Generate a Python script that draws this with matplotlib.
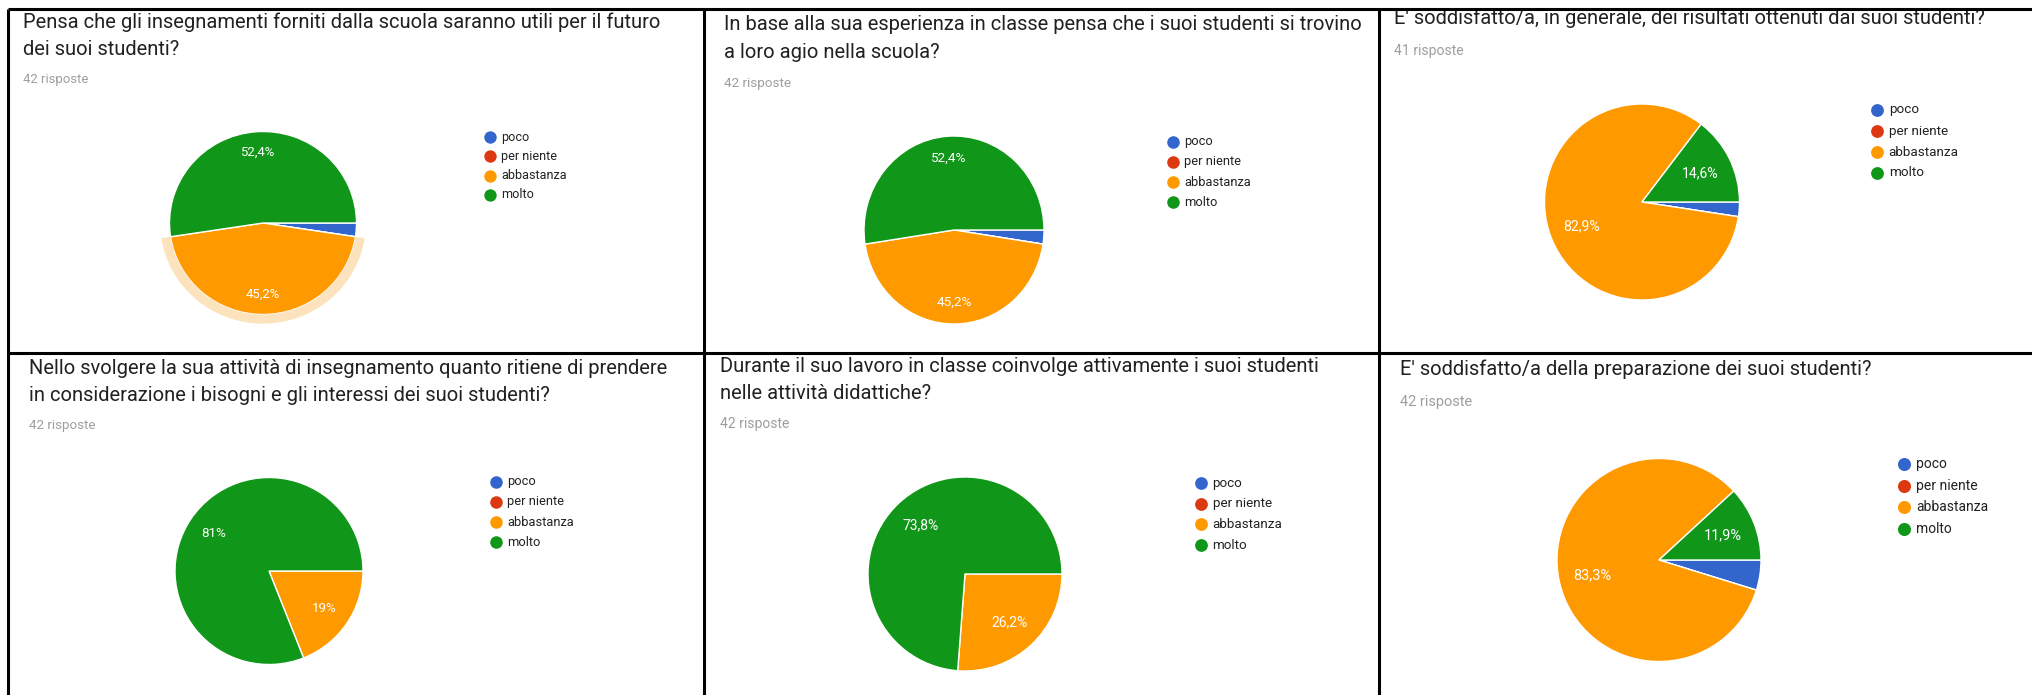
import math
import matplotlib
matplotlib.use("Agg")
import matplotlib.pyplot as plt
from matplotlib.patches import Wedge

plt.rcParams['font.family'] = ['Roboto', 'DejaVu Sans']

W, H = 2032, 695

categories = ["poco", "per niente", "abbastanza", "molto"]
colors = ["#3366cc", "#dc3912", "#ff9900", "#109618"]

titles = [
    "Pensa che gli insegnamenti forniti dalla scuola saranno utili per il futuro\ndei suoi studenti?",
    "In base alla sua esperienza in classe pensa che i suoi studenti si trovino\na loro agio nella scuola?",
    "E' soddisfatto/a, in generale, dei risultati ottenuti dai suoi studenti?",
    "Nello svolgere la sua attività di insegnamento quanto ritiene di prendere\nin considerazione i bisogni e gli interessi dei suoi studenti?",
    "Durante il suo lavoro in classe coinvolge attivamente i suoi studenti\nnelle attività didattiche?",
    "E' soddisfatto/a della preparazione dei suoi studenti?",
]
responses = ["42 risposte", "42 risposte", "41 risposte",
             "42 risposte", "42 risposte", "42 risposte"]

# percentages per category: poco, per niente, abbastanza, molto
q1 = [2.4, 0, 45.2, 52.4]
q2 = [2.4, 0, 45.2, 52.4]
q3 = [2.4, 0, 82.9, 14.6]
q4 = [0, 0, 19.0, 81.0]
q5 = [0, 0, 26.2, 73.8]
q6 = [4.8, 0, 83.3, 11.9]
answers = [q1, q2, q3, q4, q5, q6]

# pixel layout of each panel (from top-left of the image)
layout = [
    dict(tx=23, ty=22, ry_resp=80, cx=263, cy=223, rx=93.5, ry=91.5, lx=490, ly=137, ldy=19.3, lr=0.78, hl=2),
    dict(tx=724, ty=25, ry_resp=84, cx=954, cy=230, rx=90, ry=94, lx=1173, ly=142, ldy=20, lr=0.77, hl=None),
    dict(tx=1394, ty=18, ry_resp=51, cx=1642, cy=202, rx=97.5, ry=98, lx=1877, ly=110, ldy=21, lr=0.67, hl=None),
    dict(tx=29, ty=368, ry_resp=425, cx=269, cy=571, rx=94, ry=93.5, lx=496, ly=482, ldy=20, lr=0.71, hl=None),
    dict(tx=720, ty=366, ry_resp=424, cx=965, cy=574, rx=97, ry=97, lx=1201, ly=483, ldy=20.7, lr=0.68, hl=None),
    dict(tx=1400, ty=369, ry_resp=402, cx=1659, cy=560, rx=102, ry=101.5, lx=1904, ly=464, ldy=21.7, lr=0.67, hl=None),
]


def fmt_pct(v):
    s = f"{v:.1f}".replace(".", ",")
    if s.endswith(",0"):
        s = s[:-2]
    return s + "%"


fig = plt.figure(figsize=(W / 100, H / 100), dpi=100)
fig.patch.set_facecolor("white")

bg = fig.add_axes([0, 0, 1, 1])
bg.set_xlim(0, W)
bg.set_ylim(H, 0)
bg.axis("off")

for title, resp, vals, lay in zip(titles, responses, answers, layout):
    sc = lay["ry"] / 92.0
    # title lines
    for i, line in enumerate(title.split("\n")):
        bg.text(lay["tx"], lay["ty"] + i * 27.5, line, fontsize=14.5, color="#212121",
                ha="left", va="center")
    bg.text(lay["tx"], lay["ry_resp"], resp, fontsize=9.5 * sc, color="#9e9e9e",
            ha="left", va="center")

    # legend
    for i, (cat, col) in enumerate(zip(categories, colors)):
        y = lay["ly"] + i * lay["ldy"]
        bg.scatter(lay["lx"], y, s=80 * sc, color=col, zorder=3, linewidths=0)
        bg.text(lay["lx"] + 11 * sc, y, cat, fontsize=9.1 * sc, color="#222222",
                ha="left", va="center")

    # pie
    ax = fig.add_axes([(lay["cx"] - lay["rx"]) / W, 1 - (lay["cy"] + lay["ry"]) / H,
                       2 * lay["rx"] / W, 2 * lay["ry"] / H])
    wedges, _ = ax.pie(vals, colors=colors, startangle=0, counterclock=False,
                       radius=1, wedgeprops=dict(edgecolor="white", linewidth=1))
    ax.set_aspect("auto")
    ax.set_xlim(-1, 1)
    ax.set_ylim(-1, 1)
    ax.axis("off")

    if lay["hl"] is not None:
        w = wedges[lay["hl"]]
        ring = Wedge((0, 0), 1.1, min(w.theta1, w.theta2), max(w.theta1, w.theta2),
                     width=0.1, facecolor="#fde3bd", edgecolor="none", clip_on=False)
        ax.add_patch(ring)

    total = sum(vals)
    for w, v in zip(wedges, vals):
        if v / total < 0.05:
            continue
        mid = math.radians((w.theta1 + w.theta2) / 2)
        ax.text(lay["lr"] * math.cos(mid), lay["lr"] * math.sin(mid), fmt_pct(v),
                color="white", fontsize=9.5 * sc, ha="center", va="center")

# panel borders
lw = 2.2
bg.plot([8, 8], [9, H], color="black", lw=lw, zorder=5, solid_capstyle="butt")
bg.plot([8, W], [9, 9], color="black", lw=lw, zorder=5, solid_capstyle="butt")
bg.plot([8, W], [352.5, 352.5], color="black", lw=lw, zorder=5, solid_capstyle="butt")
bg.plot([704, 704], [9, H], color="black", lw=lw, zorder=5, solid_capstyle="butt")
bg.plot([1379, 1379], [9, H], color="black", lw=lw, zorder=5, solid_capstyle="butt")

fig.savefig("out.png", dpi=100)
